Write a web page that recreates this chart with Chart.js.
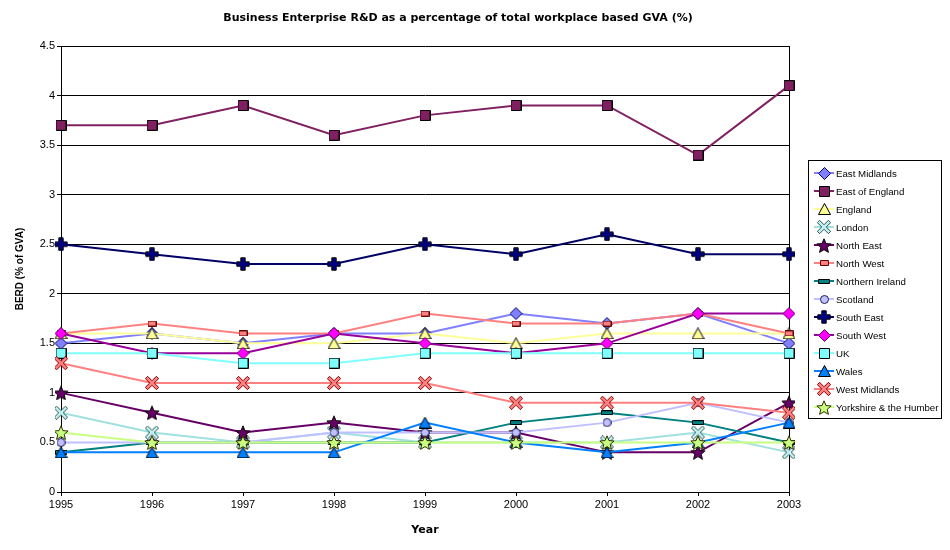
<!DOCTYPE html>
<html>
<head>
<meta charset="utf-8">
<script src="https://cdn.jsdelivr.net/npm/chart.js@4.4.0/dist/chart.umd.min.js"></script>
<style>
  body { margin: 0; background: #fff; }
</style>
</head>
<body>
<canvas id="berdChart" width="950" height="550"></canvas>
<script>
// BERD as % of workplace based GVA, by region
const years = ["1995", "1996", "1997", "1998", "1999", "2000", "2001", "2002", "2003"];
const yTicks = [0, 0.5, 1, 1.5, 2, 2.5, 3, 3.5, 4, 4.5];

const eastMidlands    = [1.5, 1.6, 1.5, 1.6, 1.6, 1.8, 1.7, 1.8, 1.5];
const eastOfEngland   = [3.7, 3.7, 3.9, 3.6, 3.8, 3.9, 3.9, 3.4, 4.1];
const england         = [1.6, 1.6, 1.5, 1.5, 1.6, 1.5, 1.6, 1.6, 1.6];
const london          = [0.8, 0.6, 0.5, 0.6, 0.5, 0.5, 0.5, 0.6, 0.4];
const northEast       = [1.0, 0.8, 0.6, 0.7, 0.6, 0.6, 0.4, 0.4, 0.9];
const northWest       = [1.6, 1.7, 1.6, 1.6, 1.8, 1.7, 1.7, 1.8, 1.6];
const northernIreland = [0.4, 0.5, 0.5, 0.5, 0.5, 0.7, 0.8, 0.7, 0.5];
const scotland        = [0.5, 0.5, 0.5, 0.6, 0.6, 0.6, 0.7, 0.9, 0.7];
const southEast       = [2.5, 2.4, 2.3, 2.3, 2.5, 2.4, 2.6, 2.4, 2.4];
const southWest       = [1.6, 1.4, 1.4, 1.6, 1.5, 1.4, 1.5, 1.8, 1.8];
const uk              = [1.4, 1.4, 1.3, 1.3, 1.4, 1.4, 1.4, 1.4, 1.4];
const wales           = [0.4, 0.4, 0.4, 0.4, 0.7, 0.5, 0.4, 0.5, 0.7];
const westMidlands    = [1.3, 1.1, 1.1, 1.1, 1.1, 0.9, 0.9, 0.9, 0.8];
const yorkshire       = [0.6, 0.5, 0.5, 0.5, 0.5, 0.5, 0.5, 0.5, 0.5];

// excel-ish markers, drawn once into small canvases
const markerSizes = {
  diamond: [13, 13], square: [11, 11], triangle: [13, 12], circle: [9, 9],
  star: [16, 15], x: [14, 14], plus: [14, 14], smallrect: [9, 6], dash: [12, 5]
};

function makeMarker(shape, fill, stroke) {
  const c = document.createElement("canvas");
  const [w, h] = markerSizes[shape];
  c.width = w; c.height = h;
  const g = c.getContext("2d");
  const cx = w / 2, cy = h / 2;
  g.fillStyle = fill;
  g.strokeStyle = stroke;
  g.lineWidth = 1;
  g.beginPath();
  if (shape === "diamond") {
    g.moveTo(cx, 0.5); g.lineTo(w - 0.5, cy); g.lineTo(cx, h - 0.5); g.lineTo(0.5, cy);
  } else if (shape === "square" || shape === "smallrect" || shape === "dash") {
    g.rect(0.5, 0.5, w - 1, h - 1);
  } else if (shape === "triangle") {
    g.moveTo(cx, 0.5); g.lineTo(w - 0.5, h - 0.5); g.lineTo(0.5, h - 0.5);
  } else if (shape === "circle") {
    g.arc(cx, cy, cx - 0.5, 0, Math.PI * 2);
  } else if (shape === "star") {
    for (let i = 0; i < 10; i++) {
      const r = i % 2 === 0 ? cx - 0.5 : cx * 0.42;
      const a = -Math.PI / 2 + i * Math.PI / 5;
      const px = cx + r * Math.cos(a), py = cy + 0.8 + r * Math.sin(a);
      if (i === 0) g.moveTo(px, py); else g.lineTo(px, py);
    }
  } else {
    // plus / x share the same outline, x is rotated 45deg
    const hl = shape === "plus" ? cx - 0.8 : cx + 0.8;
    const hw = shape === "plus" ? 2.2 : 1.6;
    const pts = [[-hw,-hl],[hw,-hl],[hw,-hw],[hl,-hw],[hl,hw],[hw,hw],[hw,hl],[-hw,hl],[-hw,hw],[-hl,hw],[-hl,-hw],[-hw,-hw]];
    const rot = shape === "x" ? Math.PI / 4 : 0;
    pts.forEach((p, i) => {
      const px = cx + p[0] * Math.cos(rot) - p[1] * Math.sin(rot);
      const py = cy + p[0] * Math.sin(rot) + p[1] * Math.cos(rot);
      if (i === 0) g.moveTo(px, py); else g.lineTo(px, py);
    });
  }
  g.closePath();
  g.fill();
  g.stroke();
  return c;
}

const series = [
  { label: "East Midlands", data: eastMidlands, line: "#8080FF", marker: makeMarker("diamond", "#8080FF", "#000060") },
  { label: "East of England", data: eastOfEngland, line: "#802060", marker: makeMarker("square", "#802060", "#000000") },
  { label: "England", data: england, line: "#FFFF99", marker: makeMarker("triangle", "#FFFF99", "#000000") },
  { label: "London", data: london, line: "#A0E0E0", marker: makeMarker("x", "#C0F0F0", "#305050") },
  { label: "North East", data: northEast, line: "#660066", marker: makeMarker("star", "#660066", "#000000") },
  { label: "North West", data: northWest, line: "#FF8080", marker: makeMarker("smallrect", "#FF8080", "#600000") },
  { label: "Northern Ireland", data: northernIreland, line: "#008080", marker: makeMarker("dash", "#008080", "#000000") },
  { label: "Scotland", data: scotland, line: "#C0C0FF", marker: makeMarker("circle", "#C0C0FF", "#202060") },
  { label: "South East", data: southEast, line: "#000066", marker: makeMarker("plus", "#000080", "#000000") },
  { label: "South West", data: southWest, line: "#990099", marker: makeMarker("diamond", "#FF00FF", "#600060") },
  { label: "UK", data: uk, line: "#80FFFF", marker: makeMarker("square", "#80FFFF", "#000000") },
  { label: "Wales", data: wales, line: "#0080FF", marker: makeMarker("triangle", "#0080FF", "#000000") },
  { label: "West Midlands", data: westMidlands, line: "#FF8080", marker: makeMarker("x", "#FF8080", "#800000") },
  { label: "Yorkshire & the Humber", data: yorkshire, line: "#C8FF80", marker: makeMarker("star", "#C8FF80", "#303000") }
];

// title + boxed legend like the excel original
const excelBits = {
  id: "excelBits",
  afterDraw(chart) {
    const ctx = chart.ctx;
    ctx.save();
    ctx.fillStyle = "#000";
    ctx.font = "bold 11px 'DejaVu Sans'";
    ctx.textAlign = "center";
    ctx.textBaseline = "middle";
    ctx.fillText("Business Enterprise R&D as a percentage of total workplace based GVA (%)", 458, 18);

    ctx.strokeStyle = "#000";
    ctx.lineWidth = 1;
    ctx.strokeRect(808.5, 160.5, 133, 258);
    ctx.font = "9.7px 'Liberation Sans'";
    ctx.textAlign = "left";
    chart.data.datasets.forEach((ds, i) => {
      const y = 173 + i * 18;
      ctx.strokeStyle = ds.borderColor;
      ctx.lineWidth = 2;
      ctx.beginPath();
      ctx.moveTo(814, y);
      ctx.lineTo(834, y);
      ctx.stroke();
      const m = ds.pointStyle;
      ctx.drawImage(m, Math.round(824 - m.width / 2), Math.round(y - m.height / 2));
      ctx.fillStyle = "#000";
      ctx.fillText(ds.label, 836, y + 1);
    });
    ctx.restore();
  }
};

new Chart(document.getElementById("berdChart"), {
  type: "line",
  data: {
    labels: years,
    datasets: series.map((s, i) => ({
      label: s.label,
      data: s.data,
      borderColor: s.line,
      backgroundColor: s.line,
      borderWidth: 2,
      tension: 0,
      fill: false,
      pointStyle: s.marker,
      pointRadius: 4,
      order: series.length - i
    }))
  },
  options: {
    responsive: false,
    animation: false,
    layout: { padding: { left: 0, right: 161, top: 46, bottom: 0 } },
    plugins: {
      legend: { display: false },
      title: { display: false },
      tooltip: { enabled: false }
    },
    scales: {
      x: {
        offset: false,
        grid: {
          color: (c) => (c.index === years.length - 1 ? "#000" : "rgba(0,0,0,0)"),
          tickColor: "#000",
          tickLength: 4
        },
        border: { color: "#000" },
        ticks: { color: "#000", font: { family: "Liberation Sans", size: 11 }, padding: 2, maxRotation: 0 },
        title: { display: true, text: "Year", color: "#000", font: { family: "DejaVu Sans", size: 11, weight: "bold" }, padding: { top: 0, bottom: 13 } },
        afterFit: (scale) => { scale.height = 58; }
      },
      y: {
        min: 0,
        max: 4.5,
        afterBuildTicks: (scale) => { scale.ticks = yTicks.map((v) => ({ value: v })); },
        grid: { color: "#000", tickColor: "#000", tickLength: 4 },
        border: { color: "#000" },
        ticks: {
          color: "#000",
          font: { family: "Liberation Sans", size: 11 },
          padding: 2,
          callback: (v) => String(v)
        },
        title: { display: true, text: "BERD (% of GVA)", color: "#000", font: { family: "Liberation Sans", size: 10, weight: "bold" }, padding: { top: 14, bottom: 0 } },
        afterFit: (scale) => { scale.width = 61; }
      }
    }
  },
  plugins: [excelBits]
});
</script>
</body>
</html>
